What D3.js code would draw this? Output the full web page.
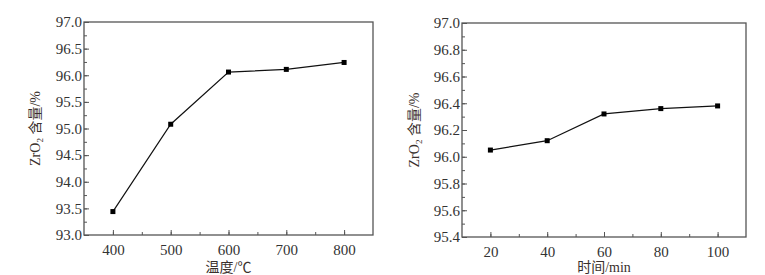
<!DOCTYPE html>
<html>
<head>
<meta charset="UTF-8">
<script src="https://cdn.jsdelivr.net/npm/d3@7"></script>
<style>
  body { margin: 0; background: #fff; }
  text { font-family: "Liberation Serif", "Noto Sans CJK SC", serif; }
</style>
</head>
<body>
<svg id="chart" width="765" height="275"></svg>
<script>
// left panel: temperature
var tempX = [400, 500, 600, 700, 800];
var tempY = [93.44, 95.08, 96.06, 96.11, 96.24];
var tempXTicks = [400, 500, 600, 700, 800];
var tempYTicks = [93.0, 93.5, 94.0, 94.5, 95.0, 95.5, 96.0, 96.5, 97.0];

// right panel: time
var timeX = [20, 40, 60, 80, 100];
var timeY = [96.05, 96.12, 96.32, 96.36, 96.38];
var timeXTicks = [20, 40, 60, 80, 100];
var timeYTicks = [95.4, 95.6, 95.8, 96.0, 96.2, 96.4, 96.6, 96.8, 97.0];

var svg = d3.select("#chart");

function panel(opt) {
    var g = svg.append("g");
    var x = d3.scaleLinear().domain(opt.xDomain).range([opt.left, opt.right]);
    var y = d3.scaleLinear().domain(opt.yDomain).range([opt.bottom, opt.top]);

    // minor ticks
    var xMinor = d3.range(opt.xDomain[0] + opt.xStep / 2, opt.xDomain[1], opt.xStep / 2);
    var yMinor = d3.range(opt.yDomain[0], opt.yDomain[1] + 1e-9, opt.yStep / 2);

    var xa = g.append("g").attr("transform", "translate(0," + opt.bottom + ")")
        .call(d3.axisBottom(x).tickValues(xMinor).tickSize(-3).tickFormat(""));
    xa.select(".domain").remove();
    var ya = g.append("g").attr("transform", "translate(" + opt.left + ",0)")
        .call(d3.axisLeft(y).tickValues(yMinor).tickSize(-3).tickFormat(""));
    ya.select(".domain").remove();

    var xb = g.append("g").attr("transform", "translate(0," + opt.bottom + ")")
        .call(d3.axisBottom(x).tickValues(opt.xTicks).tickSize(-5).tickPadding(9).tickFormat(d3.format("d")));
    xb.select(".domain").remove();
    var yb = g.append("g").attr("transform", "translate(" + opt.left + ",0)")
        .call(d3.axisLeft(y).tickValues(opt.yTicks).tickSize(-5).tickPadding(2).tickFormat(d3.format(".1f")));
    yb.select(".domain").remove();

    g.selectAll(".tick line").attr("stroke", "#555");
    g.selectAll(".tick text").attr("font-size", 15).attr("fill", "#333")
        .attr("font-family", "Liberation Serif");

    // frame
    g.append("rect").attr("x", opt.left).attr("y", opt.top)
        .attr("width", opt.right - opt.left).attr("height", opt.bottom - opt.top)
        .attr("fill", "none").attr("stroke", "#555").attr("stroke-width", 1.3);

    var line = d3.line().x(function (d, i) { return x(opt.xs[i]); }).y(function (d) { return y(d); });
    g.append("path").attr("d", line(opt.ys)).attr("fill", "none")
        .attr("stroke", "#111").attr("stroke-width", 1.2);
    g.selectAll(".pt").data(opt.ys).enter().append("rect")
        .attr("x", function (d, i) { return x(opt.xs[i]) - 2.5; })
        .attr("y", function (d) { return y(d) - 2.5; })
        .attr("width", 5).attr("height", 5).attr("fill", "#000");

    // titles
    g.append("text").attr("x", (opt.left + opt.right) / 2).attr("y", 272)
        .attr("text-anchor", "middle").attr("font-size", 14).attr("fill", "#3a302c")
        .text(opt.xTitle);
    var yt = g.append("text")
        .attr("transform", "translate(" + opt.yTitleX + "," + ((opt.top + opt.bottom) / 2) + ") rotate(-90)")
        .attr("text-anchor", "middle").attr("font-size", 14).attr("fill", "#3a302c");
    yt.append("tspan").text("ZrO");
    yt.append("tspan").attr("font-size", 9).attr("dy", 3).text("2");
    yt.append("tspan").attr("dy", -3).text(" 含量/%");
}

panel({
    left: 84, right: 373, top: 22, bottom: 235,
    xDomain: [350, 850], yDomain: [93, 97], xStep: 100, yStep: 0.5,
    xTicks: tempXTicks, yTicks: tempYTicks, xs: tempX, ys: tempY,
    xTitle: "温度/℃", yTitleX: 40
});

panel({
    left: 462, right: 746, top: 23, bottom: 237,
    xDomain: [10, 110], yDomain: [95.4, 97], xStep: 20, yStep: 0.2,
    xTicks: timeXTicks, yTicks: timeYTicks, xs: timeX, ys: timeY,
    xTitle: "时间/min", yTitleX: 419
});
</script>
</body>
</html>
